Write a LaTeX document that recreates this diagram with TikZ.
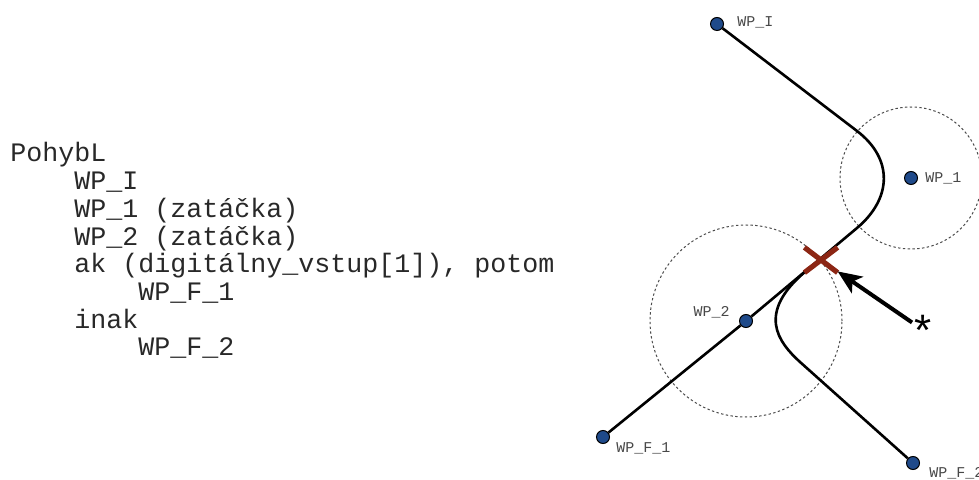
\documentclass[tikz,border=0pt]{standalone}
\usepackage{fontspec}
\setmainfont{Liberation Sans}
\setmonofont{Liberation Mono}
\usetikzlibrary{arrows.meta,shapes.misc}
\definecolor{wpblue}{RGB}{31,74,138}
\definecolor{crossred}{RGB}{140,38,20}
\definecolor{txtgray}{RGB}{40,40,40}
\tikzset{
  wpdot/.style={circle,draw=black,line width=0.5pt,fill=wpblue,minimum size=6.5pt,inner sep=0pt},
  wplab/.style={font=\ttfamily\fontsize{7.5}{8}\selectfont,text=txtgray!85,inner sep=0pt},
  codeline/.style={font=\ttfamily\fontsize{13.33}{14}\selectfont,text=txtgray,anchor=base west,inner sep=0pt},
  track/.style={line width=1.3pt},
  zone/.style={black!70,line width=0.5pt,dash pattern=on 1.2pt off 1.2pt},
}
\begin{document}
\begin{tikzpicture}[x=0.5pt,y=-0.5pt]
  \useasboundingbox (0,0) rectangle (979,480);
  % program listing
  \foreach \ind/\txt [count=\k from 0] in {0/PohybL, 4/WP\_I, 4/WP\_1 (zatáčka), 4/WP\_2 (zatáčka),
      4/{ak (digitálny\_vstup[1]), potom}, 8/WP\_F\_1, 4/inak, 8/WP\_F\_2}
    \node[codeline] (line\k) at ({10+16*\ind},{162+27.7*\k}) {\txt};
  % waypoints
  \node[wpdot] (wpI) at (717,24) {};
  \node[wpdot] (wp1) at (911,178) {};
  \node[wpdot] (wp2) at (746,321) {};
  \node[wpdot] (wpF1) at (603,437) {};
  \node[wpdot] (wpF2) at (913,463) {};
  \node[wplab,anchor=west] (labI) at (737,22) {WP\_I};
  \node[wplab,anchor=west] (lab1) at (925,178) {WP\_1};
  \node[wplab,anchor=east] (lab2) at (730,312) {WP\_2};
  \node[wplab,anchor=west] (labF1) at (616,448) {WP\_F\_1};
  \node[wplab,anchor=west] (labF2) at (929,473) {WP\_F\_2};
  % turning zones
  \draw[zone] (wp1.center) circle[radius=35.5pt];
  \draw[zone] (wp2.center) circle[radius=48pt];
  % path
  \coordinate (t1a) at (857,131);
  \coordinate (t1b) at (857,228);
  \coordinate (t2a) at (806,271);
  \coordinate (t2b) at (800,362);
  \draw[track] (wpI) -- (t1a) .. controls (893.5,159) and (892,198.5) .. (t1b) -- (wp2) -- (wpF1);
  \draw[track] (t2a) .. controls (756,313) and (778,342) .. (t2b) -- (wpF2);
  % input point
  \node[cross out,draw=crossred,line width=2.6pt,minimum width=14pt,minimum height=10pt,inner sep=0pt] (hit) at (821,260) {};
  \node[font=\fontsize{22}{22}\selectfont,inner sep=1pt] (star) at (923,330) {*};
  \draw[line width=2pt,-{Stealth[length=12pt,width=10pt,inset=3pt]}] (star) -- (hit);
\end{tikzpicture}
\end{document}
